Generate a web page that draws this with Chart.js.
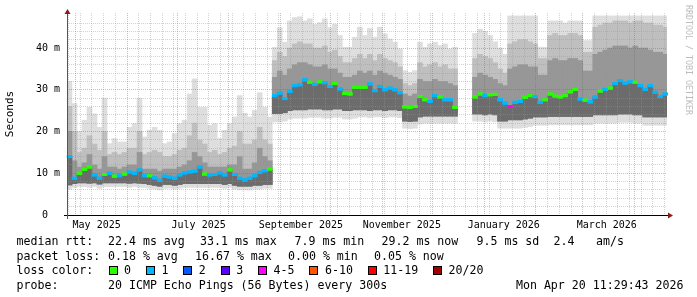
<!DOCTYPE html>
<html><head><meta charset="utf-8">
<script src="https://cdn.jsdelivr.net/npm/chart.js@4.4.1/dist/chart.umd.min.js"></script>
<style>
html,body{margin:0;padding:0;background:#fff;}
#wrap{position:relative;width:697px;height:297px;overflow:hidden;background:#fff;}
#c{position:absolute;left:0;top:0;}
.t{position:absolute;font-family:'DejaVu Sans Mono',monospace;font-size:11.6px;line-height:14px;white-space:pre;color:#000;}
.box{position:absolute;width:7px;height:7px;border:1px solid #000;}
#wm{position:absolute;left:684px;top:5px;font-family:'DejaVu Sans Mono',monospace;font-size:8.3px;line-height:9px;color:#bcbcbc;writing-mode:vertical-rl;white-space:pre;}
</style></head><body>
<div id="wrap">
<canvas id="c" width="697" height="297"></canvas>
<div id="wm">RRDTOOL / TOBI OETIKER</div>
</div>
<script>
// ---------- data (days counted from 2025-05-01; one sample every 3 days) ----------
const sampleStartDay = -3.5;
const sampleStepDays = 3;

const median = [14.0,8.8,10.0,10.9,11.5,9.6,8.8,9.7,10.0,9.3, 9.4,9.8,10.3,10.0,10.8,9.4,9.4,8.9,8.3,9.3,
 9.1,8.8,9.6,10.1,10.3,10.5,11.5,9.8,9.6,9.7, 10.1,9.6,10.8,9.7,8.8,8.4,8.8,9.4,10.2,10.6,
 11.0,28.6,29.2,27.9,29.6,31.0,31.2,32.4,31.8,31.3, 31.9,31.7,30.8,31.5,30.2,29.1,29.0,30.6,30.6,30.6,
 31.4,29.8,30.8,30.0,30.4,30.0,29.3,25.9,25.8,26.0, 28.4,27.6,27.2,28.6,28.3,27.6,27.6,25.8,null,null,
 null,28.3,29.0,28.6,28.8,28.9,27.6,26.8,26.0,27.0, 27.2,28.2,28.6,28.4,27.0,27.6,29.0,28.5,28.3,28.6,
 29.5,30.1,27.8,27.5,27.1,28.3,29.7,30.1,30.4,31.5, 32.2,31.6,31.9,31.8,31.0,30.1,31.0,29.4,28.4,29.0];

const lossCount = [1,1,0,0,0,1,1,0,1,0, 1,0,1,1,1,1,0,1,1,1,
 1,1,1,1,1,1,1,0,1,1, 1,1,0,1,1,1,1,1,1,1,
 0,1,1,1,1,1,1,1,0,1, 0,1,1,0,1,0,0,0,0,0,
 1,1,1,1,1,1,1,0,0,0, 0,0,1,1,0,1,1,0,null,null,
 null,0,0,1,0,0,1,1,4,1, 1,0,0,1,1,0,0,0,0,0,
 0,0,1,0,1,1,0,1,0,1, 1,1,1,0,1,1,1,1,1,1];

const smokeTop = [32,26.7,20,22.7,25.8,24.2,21,28,17.1,18.3, 17.5,17.5,21,21.9,28,18.7,20.3,21,20.3,17.1,
 17.5,19.5,21.9,22.7,29,32.6,25.8,25.8,21.5,21.9, 18.3,20.3,21.9,23.5,28.6,24.4,23.5,25.1,29.3,25.8,
 23.5,40.2,44.9,41.4,46.5,47.3,47.5,46.5,47,45.7, 46.1,47,44.9,45.7,43,40.2,40.2,42.6,45,43,
 44.7,42.6,45,43.4,42.2,41.4,39.8,34.6,34.2,34.6, 41.4,40.2,41,41.4,40.6,41,39.8,40.2,null,null,
 null,43.5,44.5,44,43,41.5,40,38.5,47.7,47.7, 47.7,47.7,47.7,47.7,40.2,40.2,46.5,46.5,46.5,46,
 46.5,46.5,46.5,41.8,41.8,47.7,47.7,47.7,47.7,47.7, 47.7,47.7,47.7,47.7,47.7,47.7,47.7,47.7,47.7,47.7];

const smokeUpper = [26,20,15,16,19,17,15.5,20,14.5,15, 14.5,15,16,16,20,14.5,15,15.5,15,14,
 14,14.5,15.5,16,19,22,18,17,15,15.5, 14.5,15,16,16.5,20,17,17,18,21,18,
 17,37,39,38,40,41,41.5,41,41,40, 40,40.5,39,39.5,38,36.5,36.5,37.5,38.5,37.5,
 38.5,37,38.5,37.5,37,36.5,35.5,31.5,31,31.5, 36.5,35.5,36,36.5,35.5,36,35,35,null,null,
 null,37.5,38.5,38,37.5,36.5,35,34,41,41.5, 42,42,41.5,41,37.5,37.5,43,43.5,43,43,
 43.5,43.5,43,39,39,45,45.5,46,46,46.5, 46.5,46.5,46,46.5,46.5,46,46,45.5,45.5,45];

const smokeCore = [20,13,11.5,12.5,14.5,12,11,14,11.5,11.5, 11,11.5,12,12,15,11,11,11,10.5,11,
 11,11,11.5,12,13,15,14,12.5,11.5,11.5, 11.5,11.5,12,12,14,11,11,12.5,16,14,
 13,33,34.5,33.5,35,36,36.5,36.5,36,35.5, 35.5,36,35,35,34,33,33,33.5,34.5,34,
 34.5,33.5,34.5,34,33.5,33,32.5,29,28.5,29, 32.5,32,32,32.5,32,32,31.5,31,null,null,
 null,33,34,33.5,33,32.5,31.5,31,35,35.5, 36,36,35.5,35.5,33.5,33.5,37,37.5,37,37,
 37.5,37.5,37,34.5,34.5,38.5,39,39.5,40,40.5, 40.5,40.5,40,40.5,40,40,39.5,39,39,38.5];

const smokeBottom = [6.2,6.6,6.8,6.8,6.6,6.8,6.4,6.8,6.8,6.8, 6.8,6.8,6.6,6.8,6.6,6.6,6.4,6.2,6.0,6.4,
 6.4,6.2,6.4,6.6,6.6,6.6,6.6,6.6,6.6,6.6, 6.6,6.4,6.6,6.2,6.0,6.0,6.0,6.2,6.2,6.4,
 6.4,22.3,22.3,22.5,23.0,23.2,23.2,23.2,23.4,23.4, 23.4,23.2,23.2,23.4,23.4,23.0,23.0,23.2,23.5,23.5,
 23.3,23.5,23.5,23.3,23.5,23.5,23.3,20.8,20.7,20.8, 21.8,22,22,22,22,22,22,22,null,null,
 null,22.5,22.5,22.3,22.5,22.3,20.8,20.8,20.8,20.8, 20.8,21,21.2,21.5,21.5,21.5,21.6,21.6,21.6,21.6,
 21.6,21.6,21.6,21.6,21.6,22,22,22,22,22, 22.2,22.2,22.2,22,22,21.5,21.5,21.5,21.5,21.5];

const smokeLower = [7.2,7.5,7.7,7.7,7.6,7.7,7.4,7.7,7.7,7.7, 7.7,7.7,7.6,7.7,7.6,7.5,7.3,7.1,6.9,7.3,
 7.3,7.1,7.3,7.5,7.5,7.5,7.5,7.5,7.5,7.5, 7.5,7.3,7.5,7.1,6.9,6.9,6.9,7.1,7.1,7.3,
 7.3,24.3,24.3,24.5,25.0,25.2,25.2,25.2,25.4,25.4, 25.4,25.2,25.2,25.4,25.4,25.0,25.0,25.2,25.2,25.2,
 25.0,25.2,25.2,25.0,25.2,25.2,25.0,22.5,22.4,22.5, 23.5,23.7,23.7,23.7,23.7,23.7,23.7,23.7,null,null,
 null,24.2,24.2,24,24.2,24,22.5,22.5,22.8,22.8, 22.8,23,23.2,23.5,23.5,23.5,23.6,23.6,23.6,23.6,
 23.6,23.6,23.6,23.6,23.6,24,24,24,24,24, 24.2,24.2,24.2,24,24,23.5,23.5,23.5,23.5,23.5];

// ---------- axis ticks ----------
const xMinDay = -4.97, xMaxDay = 354.5;
const monthStartDays = [0,31,61,92,123,153,184,214,245,276,304,335];
const firstSundayDay = -4;
const monthLabelDays = [12.8,73.9,135.2,195.6,256.7,318.4];
const monthLabelTexts = ['May 2025','July 2025','September 2025','November 2025','January 2026','March 2026'];
const yGridValues = [0,2,4,6,8,10,12,14,16,18,20,22,24,26,28,30,32,34,36,38,40,42,44,46];
const yMax = 48.4;

// ---------- legend text ----------
const legendTextChunks = [
  [16.5, 241, 'median rtt:'], [108, 241, '22.4 ms avg'], [200, 241, '33.1 ms max'], [294.5, 241, '7.9 ms min'],
  [381.5, 241, '29.2 ms now'], [476.5, 241, '9.5 ms sd'], [553.5, 241, '2.4'], [596, 241, 'am/s'],
  [16.5, 255.5, 'packet loss:'], [108, 255.5, '0.18 % avg'], [195, 255.5, '16.67 % max'], [288, 255.5, '0.00 % min'], [374, 255.5, '0.05 % now'],
  [16.5, 270, 'loss color:'],
  [16.5, 284.5, 'probe:'], [108, 284.5, '20 ICMP Echo Pings (56 Bytes) every 300s']
];
const stampText = 'Mon Apr 20 11:29:43 2026';
const legendItems = [['0','#26ff00'],['1','#00b8ff'],['2','#0059ff'],['3','#5e00ff'],['4-5','#ff00ff'],['6-10','#ff5500'],['11-19','#ff0000'],['20/20','#a10000']];

function lossColor(n){
  if(n==null) return 'rgba(0,0,0,0)';
  if(n===0) return '#26ff00'; if(n===1) return '#00b8ff'; if(n===2) return '#0059ff'; if(n===3) return '#5e00ff';
  if(n<=5) return '#ff00ff'; if(n<=10) return '#ff5500'; if(n<=19) return '#ff0000'; return '#a10000';
}

(function(){
  const wrap = document.getElementById('wrap');
  function txt(x, cy, s, right){
    const t = document.createElement('div'); t.className='t';
    if(right) t.style.right = x+'px'; else t.style.left = x+'px';
    t.style.top = (cy-7)+'px'; t.textContent = s; wrap.appendChild(t);
  }
  legendTextChunks.forEach(([x,cy,s])=>txt(x,cy,s));
  txt(13.5, 284.5, stampText, true);
  let x = 108.6;
  legendItems.forEach(([s,col])=>{
    const b = document.createElement('div'); b.className='box';
    b.style.left = x+'px'; b.style.top='265.5px'; b.style.background=col; wrap.appendChild(b);
    txt(x+15.5, 270, s);
    x += 16 + 6.98*s.length + 14.4;
  });
})();

const days = median.map((_,i)=> sampleStartDay + sampleStepDays*i);
function band(lo, hi){ return days.map((d,i)=> ({x:d, y:(lo[i]==null||hi[i]==null)?null:[lo[i],hi[i]]})); }

const xKinds = new Map();
for(let d=firstSundayDay; d<=xMaxDay; d+=7) xKinds.set(d,'week');
monthStartDays.forEach(d=>xKinds.set(d,'month'));
const labelMap = new Map();
monthLabelDays.forEach((d,k)=>{ xKinds.set(d,'label'); labelMap.set(d, monthLabelTexts[k]); });
const xTickValues = Array.from(xKinds.keys()).sort((a,b)=>a-b);

const minorGrid = 'rgba(150,150,150,0.42)';
const majorGrid = 'rgba(215,60,60,0.42)';

const rrdAxes = {
  id:'rrdAxes',
  afterDraw(chart){
    const {ctx, chartArea:a} = chart;
    chart.getDatasetMeta(0).controller.draw();
    ctx.save();
    ctx.lineWidth = 1;
    ctx.strokeStyle = '#000';
    ctx.beginPath(); ctx.moveTo(a.left-3, a.bottom+0.5); ctx.lineTo(a.right+1, a.bottom+0.5); ctx.stroke();
    ctx.strokeStyle = '#555';
    ctx.beginPath(); ctx.moveTo(a.left+0.5, a.bottom+4); ctx.lineTo(a.left+0.5, a.top-1); ctx.stroke();
    ctx.fillStyle = '#8b1a1a';
    ctx.beginPath(); ctx.moveTo(a.right+1, a.bottom-2.5); ctx.lineTo(a.right+6, a.bottom+0.5); ctx.lineTo(a.right+1, a.bottom+3.5); ctx.closePath(); ctx.fill();
    ctx.beginPath(); ctx.moveTo(a.left-2.5, a.top+1); ctx.lineTo(a.left+0.5, a.top-4); ctx.lineTo(a.left+3.5, a.top+1); ctx.closePath(); ctx.fill();
    ctx.restore();
  }
};

const barCommon = {type:'bar', xAxisID:'xs', grouped:false, barPercentage:1, categoryPercentage:1, borderWidth:0};

new Chart(document.getElementById('c'), {
  type:'bar',
  data:{
    datasets:[
      {type:'line', label:'median', xAxisID:'xs', order:0, data: days.map((d,i)=>({x:d,y:median[i]})), showLine:false,
       pointStyle:'line', pointRadius:2.7, pointBorderWidth:3,
       pointBorderColor: lossCount.map(lossColor), pointBackgroundColor: lossCount.map(lossColor)},
      Object.assign({label:'deep', order:1, data: band(smokeLower, median), backgroundColor:'#6c6c6c'}, barCommon),
      Object.assign({label:'core', order:2, data: band(smokeLower, smokeCore), backgroundColor:'#979797'}, barCommon),
      Object.assign({label:'mid', order:3, data: band(smokeLower, smokeUpper), backgroundColor:'#bfbfbf'}, barCommon),
      Object.assign({label:'outer', order:4, data: band(smokeBottom, smokeTop), backgroundColor:'#dedede'}, barCommon)
    ]
  },
  options:{
    responsive:false, devicePixelRatio:1, animation:false, events:[],
    layout:{padding:{left:0,right:30,top:12,bottom:62}},
    plugins:{legend:{display:false}, tooltip:{enabled:false}},
    scales:{
      xs:{type:'linear', display:false, min:xMinDay, max:xMaxDay, bounds:'data', offset:false,
        afterBuildTicks: s => { s.ticks = [{value:xMinDay},{value:xMaxDay}]; }},
      x:{type:'linear', position:'bottom', min:xMinDay, max:xMaxDay, bounds:'data', offset:false,
        grid:{offset:false, drawTicks:false, z:1, lineWidth:1,
          color: c => { const k = xKinds.get(c.tick && c.tick.value); return k==='month'?majorGrid:(k==='week'?minorGrid:'rgba(0,0,0,0)'); }},
        border:{display:false, dash:[1,1]},
        afterBuildTicks: s => { s.ticks = xTickValues.map(v=>({value:v})); },
        afterFit: s => { s.height = 20; },
        ticks:{autoSkip:false, maxRotation:0, minRotation:0, padding:4, color:'#000',
          font:{family:'DejaVu Sans Mono', size:10},
          callback: v => labelMap.get(v) || ''}
      },
      y:{type:'linear', min:0, max:yMax, bounds:'data',
        grid:{drawTicks:false, z:1, lineWidth:1,
          color: c => { const v = c.tick && c.tick.value; if(v===0) return 'rgba(0,0,0,0)'; return (v%10===0)?majorGrid:minorGrid; }},
        border:{display:false, dash:[1,1]},
        afterBuildTicks: s => { s.ticks = yGridValues.map(v=>({value:v})); },
        afterFit: s => { s.width = 67; },
        title:{display:true, text:'Seconds', color:'#000', font:{family:'DejaVu Sans Mono', size:11}, padding:{top:4,bottom:0}},
        ticks:{autoSkip:false, padding:7, color:'#000', font:{family:'DejaVu Sans Mono', size:10},
          callback: v => v===0 ? '0  ' : (v%10===0 ? v+' m' : '')}
      }
    }
  },
  plugins:[rrdAxes]
});
</script>
</body></html>
